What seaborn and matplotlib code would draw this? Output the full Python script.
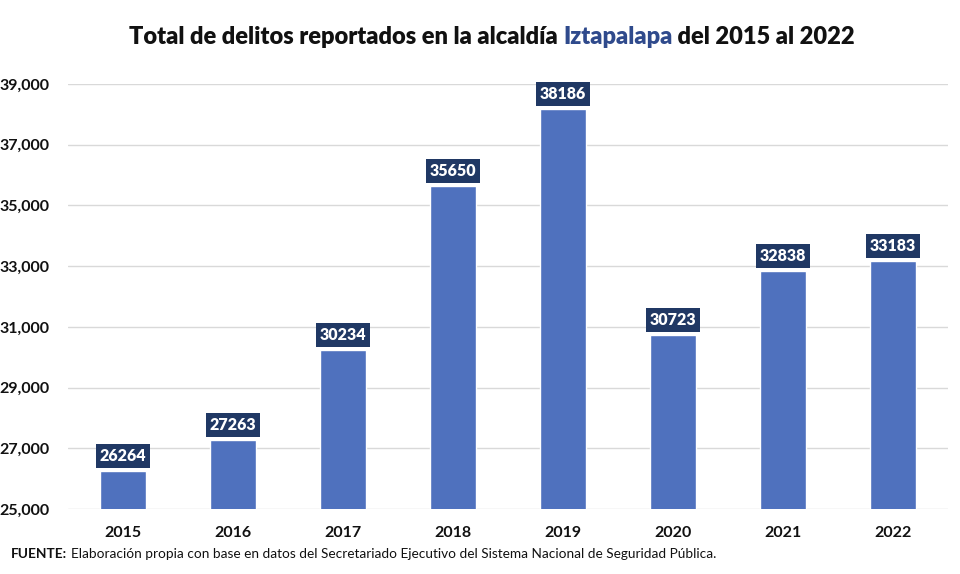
import matplotlib
matplotlib.use("Agg")
import matplotlib.pyplot as plt
import seaborn as sns
import pandas as pd
from matplotlib.ticker import FuncFormatter

years = ["2015", "2016", "2017", "2018", "2019", "2020", "2021", "2022"]
delitos = [26264, 27263, 30234, 35650, 38186, 30723, 32838, 33183]
y_ticks = [25000, 27000, 29000, 31000, 33000, 35000, 37000, 39000]

bar_color = "#4F71BE"
label_color = "#203864"
title_blue = "#2F4A8C"

sns.set_theme(style="white")
plt.rcParams["font.family"] = ["Lato", "DejaVu Sans"]

df = pd.DataFrame({"year": years, "delitos": delitos})

fig = plt.figure(figsize=(9.6, 5.74), dpi=100)
ax = fig.add_axes([0.0708, 0.1132, 0.9167, 0.7405])

sns.barplot(data=df, x="year", y="delitos", color=bar_color, width=0.42,
            saturation=1, ax=ax, zorder=3)

ax.set_ylim(25000, 39000)
ax.set_xlim(-0.5, 7.5)
ax.set_yticks(y_ticks)
ax.yaxis.set_major_formatter(FuncFormatter(lambda v, p: f"{int(v):,}"))
ax.grid(axis="y", color="#d9d9d9", linewidth=1, zorder=0)
ax.set_axisbelow(True)
for s in ax.spines.values():
    s.set_visible(False)
ax.set_xlabel("")
ax.set_ylabel("")
ax.tick_params(axis="both", length=0, labelsize=11.5)
ax.tick_params(axis="x", pad=12)
ax.tick_params(axis="y", pad=13)
for t in ax.get_xticklabels() + ax.get_yticklabels():
    t.set_fontweight("bold")
    t.set_color("#111111")

for i, v in enumerate(delitos):
    ax.annotate(str(v), xy=(i, v), xytext=(0, 5), textcoords="offset points",
                ha="center", va="bottom", color="white", fontsize=11.5,
                fontweight="heavy", zorder=5,
                bbox=dict(boxstyle="square,pad=0.25", fc=label_color, ec="none"))

# Title with one colored word
parts = [("Total de delitos reportados en la alcaldía ", "#111111"),
         ("Iztapalapa", title_blue),
         (" del 2015 al 2022", "#111111")]
fig.canvas.draw()
renderer = fig.canvas.get_renderer()
texts = []
total_w = 0
for txt, col in parts:
    t = fig.text(0, 0.935, txt, color=col, fontsize=17, fontweight="heavy",
                 ha="left", va="center")
    w = t.get_window_extent(renderer=renderer).width
    texts.append((t, w))
    total_w += w
x0 = (492 - total_w / 2)
for t, w in texts:
    t.set_x(x0 / fig.bbox.width)
    x0 += w

src = fig.text(0.011, 0.035, "FUENTE:", fontsize=9.8, fontweight="bold", color="#111111",
               ha="left", va="center")
sw = src.get_window_extent(renderer=renderer).width
fig.text(0.011 + (sw + 4) / fig.bbox.width, 0.035,
         "Elaboración propia con base en datos del Secretariado Ejecutivo del Sistema Nacional de Seguridad Pública.",
         fontsize=9.8, color="#111111", ha="left", va="center")

fig.savefig("out.png", dpi=100)
